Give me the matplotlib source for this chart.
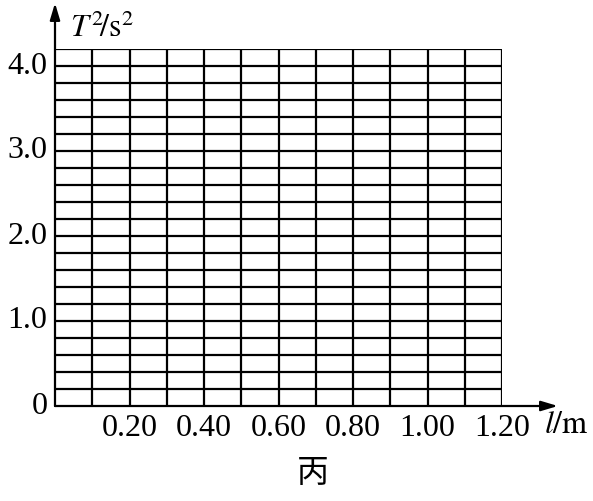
import numpy as np
import matplotlib
matplotlib.use("Agg")
from matplotlib import pyplot as plt

plt.rcParams["mathtext.fontset"] = "stix"

# grid spacing and tick labels
x_max = 1.20
y_max = 4.2
x_step = 0.10
y_step = 0.20
x_ticks = [0.20, 0.40, 0.60, 0.80, 1.00, 1.20]
x_tick_labels = ["0.20", "0.40", "0.60", "0.80", "1.00", "1.20"]
y_ticks = [0, 1.0, 2.0, 3.0, 4.0]
y_tick_labels = ["0", "1.0", "2.0", "3.0", "4.0"]

W, H = 593, 501
fig = plt.figure(figsize=(W / 100, H / 100), dpi=100)
x0, x1 = 55, 502
y0, y1 = 406, 49
ax = fig.add_axes([x0 / W, (H - y0) / H, (x1 - x0) / W, (y0 - y1) / H])
ax.set_xlim(0, x_max)
ax.set_ylim(0, y_max)
ax.axis("off")

lw = 1.6
xs = np.arange(1, round(x_max / x_step) + 1) * x_step
ys = np.arange(1, round(y_max / y_step) + 1) * y_step
ax.vlines(xs, 0, y_max, colors="black", lw=lw)
ax.hlines(ys, 0, x_max, colors="black", lw=lw)

# axes with arrows
ax.annotate("", xy=(1.35, 0), xytext=(0, 0), annotation_clip=False,
            arrowprops=dict(arrowstyle="-|>,head_length=1.0,head_width=0.3",
                            color="black", lw=lw, shrinkA=0, shrinkB=0))
ax.annotate("", xy=(0, 4.74), xytext=(0, 0), annotation_clip=False,
            arrowprops=dict(arrowstyle="-|>,head_length=1.0,head_width=0.3",
                            color="black", lw=lw, shrinkA=0, shrinkB=0))

serif = "Liberation Serif"
fs = 23
for x, lab in zip(x_ticks, x_tick_labels):
    ax.text(x, -0.09, lab, ha="center", va="top", fontsize=fs, family=serif)
for y, lab in zip(y_ticks, y_tick_labels):
    ax.text(-0.02, y, lab, ha="right", va="center", fontsize=fs, family=serif)

fig.text(70 / W, 1 - 37 / H, r"$\mathit{T}^{2}\!/\mathrm{s}^{2}$", ha="left",
         va="baseline", fontsize=fs)
fig.text(544 / W, 1 - 433 / H, r"$\mathit{l}/\mathrm{m}$", ha="left",
         va="baseline", fontsize=fs)
fig.text(313 / W, 1 - 473 / H, "丙", ha="center", va="center", fontsize=fs,
         family=["Noto Sans CJK SC", "DejaVu Sans"])

fig.savefig("out.png", dpi=100)
